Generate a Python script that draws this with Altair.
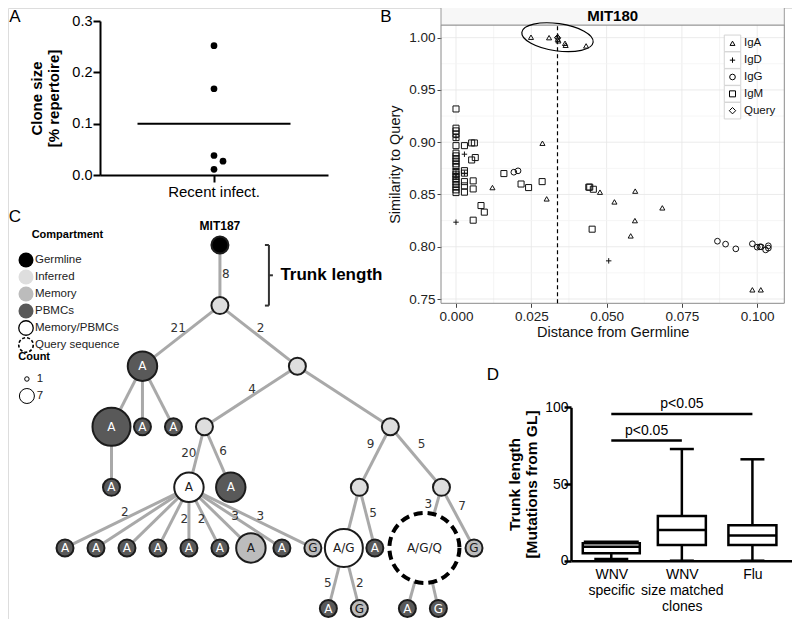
import json
import altair as alt
import pandas as pd

M = 8            # page margin
W, H = 784, 611  # chart canvas


def P(v):
    """page pixel -> chart pixel"""
    return v - M


SANS = "Liberation Sans"
TREE = "DejaVu Sans"

# ======================= DATA =======================
# ---- Panel A: clone size (% repertoire) ----
A_GROUP = "Recent infect."
A_VALUES = [0.252, 0.168, 0.038, 0.027, 0.011]
A_DODGE = [0, 0, 0, 1, 0]
A_CENTER = 0.10
A_TICKS = [0.0, 0.1, 0.2, 0.3]

# ---- Panel B: similarity vs distance ----
B_TITLE = "MIT180"
B_ISOTYPES = ["IgA", "IgD", "IgG", "IgM", "Query"]
IGA_X = [0.0249, 0.0309, 0.0338, 0.0338, 0.0340, 0.0362, 0.0364, 0.0432,
         0.0121, 0.0287, 0.0301, 0.0478, 0.0526, 0.0595, 0.0685, 0.0594, 0.0580, 0.0984, 0.1012]
IGA_Y = [1.0004, 1.0000, 1.0010, 0.9985, 0.9970, 0.9946, 0.9927, 0.9921,
         0.8566, 0.8990, 0.8458, 0.8522, 0.8429, 0.8532, 0.8372, 0.8250, 0.8104, 0.7588, 0.7588]
IGD_X = [0.0, 0.0, 0.0, 0.0, 0.0028, 0.0028, 0.0507]
IGD_Y = [0.9044, 0.8704, 0.8665, 0.8235, 0.8885, 0.8704, 0.7865]
IGG_X = [0.0192, 0.0206, 0.0868, 0.0895, 0.0929, 0.0984, 0.1000, 0.1009, 0.1013, 0.1028, 0.1037, 0.1037]
IGG_Y = [0.8713, 0.8726, 0.8053, 0.8025, 0.7980, 0.8028, 0.7996, 0.7999, 0.7999, 0.7970, 0.7987, 0.8009]
IGM_X = [0.0] * 21 + [0.0028] * 6 + [0.0052, 0.0061, 0.0052, 0.0064, 0.0057, 0.0057, 0.0057,
                                    0.0083, 0.0094, 0.0159, 0.0216, 0.0241, 0.0286, 0.0441, 0.0444, 0.0456, 0.0452]
IGM_Y = [0.9318, 0.9134, 0.9108, 0.9079, 0.9044, 0.8967, 0.8895, 0.8869, 0.8843, 0.8818, 0.8793,
         0.8767, 0.8719, 0.8694, 0.8671, 0.8646, 0.8620, 0.8595, 0.8570, 0.8544, 0.8518,
         0.8967, 0.8728, 0.8704, 0.8623, 0.8582, 0.8522,
         0.8993, 0.8993, 0.8830, 0.8853, 0.8630, 0.8553, 0.8254,
         0.8394, 0.8331, 0.8700, 0.8600, 0.8566, 0.8623, 0.8570, 0.8570, 0.8550, 0.8168]
QUERY_X = [0.0337]
QUERY_Y = [1.0000]
B_CUTOFF = 0.0337
B_XDOM = [-0.00498, 0.109]
B_YDOM = [0.7459, 1.0121]
B_XTICKS = [0.0, 0.025, 0.05, 0.075, 0.1]
B_YTICKS = [0.75, 0.80, 0.85, 0.90, 0.95, 1.00]

# ---- Panel C: lineage tree ----
COMPARTMENTS = ["Germline", "Inferred", "Memory", "PBMCs", "Memory/PBMCs", "Query sequence"]
NODE_PARENT = [None, 0, 1, 1, 2, 2, 2, 3, 3, 4, 7, 7, 8, 8,
               10, 10, 10, 10, 10, 10, 10, 10, 10, 12, 12, 13, 13, 23, 23, 25, 25]
NODE_X = [5.0, 5.0, 2.5, 7.5, 1.5, 2.5, 3.5, 4.5, 10.5, 1.5, 4.0, 5.35, 9.5, 12.15,
          0, 1, 2, 3, 4, 5, 6, 7, 8, 9.0, 10.0, 11.6, 13.2, 8.5, 9.5, 11.05, 12.05]
NODE_LEVEL = [0, 1, 2, 2, 3, 3, 3, 3, 3, 4, 4, 4, 4, 4,
              5, 5, 5, 5, 5, 5, 5, 5, 5, 5, 5, 5, 5, 6, 6, 6, 6]
NODE_COMP = ["Germline", "Inferred", "PBMCs", "Inferred", "PBMCs", "PBMCs", "PBMCs", "Inferred",
             "Inferred", "PBMCs", "Memory/PBMCs", "PBMCs", "Inferred", "Inferred",
             "PBMCs", "PBMCs", "PBMCs", "PBMCs", "PBMCs", "PBMCs", "Memory", "PBMCs", "Memory",
             "Memory/PBMCs", "PBMCs", "Query sequence", "Memory", "PBMCs", "Memory", "PBMCs", "PBMCs"]
NODE_COUNT = [1, 1, 4, 1, 7, 1, 1, 1, 1, 1, 4, 4, 1, 1,
              1, 1, 1, 1, 1, 1, 4, 1, 1, 7, 1, 25, 1, 1, 1, 1, 1]
NODE_LABEL = ["", "", "A", "", "A", "A", "A", "", "", "A", "A", "A", "", "",
              "A", "A", "A", "A", "A", "A", "A", "A", "G", "A/G", "A", "A/G/Q", "G", "A", "G", "A", "G"]
GERMLINE_NAME = "MIT187"
# edge mutation counts: (child node, mutations)
EDGE_MUT = [(1, "8"), (2, "21"), (3, "2"), (7, "4"), (10, "20"), (11, "6"), (12, "9"), (13, "5"),
            (24, "5"), (25, "3"), (26, "7"), (27, "5"), (28, "2"), (14, "2"), (17, "2"), (18, "2"),
            (21, "3"), (22, "3")]
# label placement along edge (fraction, px shift)
EDGE_LABEL_POS = {1: (0.48, 6), 2: (0.37, -13), 3: (0.37, 12), 7: (0.37, -11), 10: (0.43, -9),
                  11: (0.40, 8), 12: (0.28, -11), 13: (0.28, 17), 24: (0.43, 7), 25: (0.275, -8.5),
                  26: (0.31, 10.5), 27: (0.58, -7), 28: (0.58, 7), 14: (0.40, -14.5), 17: (0.52, 11.4),
                  18: (0.52, 12.7), 21: (0.48, 1.5), 22: (0.48, 12)}
COUNT_LEGEND = [1, 7]

# ---- Panel D: trunk length ----
D_GROUPS = ["WNV\nspecific", "WNV\nsize matched\nclones", "Flu"]
D_MIN = [1.1, 0, 0]
D_Q1 = [4.8, 10.2, 10.2]
D_MED = [9.1, 20.0, 16.5]
D_Q3 = [11.3, 29.1, 23.1]
D_MAX = [12.4, 72.8, 66.1]
D_SIG = [(1, 3, 95.6, "p<0.05"), (1, 2, 78.3, "p<0.05")]

PANEL_LETTERS = ["A", "B", "C", "D"]

# ======================= STYLE =======================
B_SHAPES = ["triangle-up", "M-1,0L1,0M0,-1L0,1", "circle", "square", "diamond"]
B_SIZES = [26, 40, 20, 16, 24]
FILLS = ["#000000", "#dedede", "#bcbcbc", "#595959", "#ffffff", "#ffffff"]
D_BOX_W = [57, 48, 48]
D_CAP_TOP = [55, 24, 24]
D_CAP_BOT = [34, 24, 24]

# ======================= PANEL A =======================
dfA = pd.DataFrame({"g": [A_GROUP] * len(A_VALUES), "v": A_VALUES, "d": A_DODGE})
dfAc = pd.DataFrame({"g": [A_GROUP], "v": [A_CENTER]})
a_range = [P(100), P(328)]
a_half_band = (a_range[1] - a_range[0]) / 2
sxA = alt.Scale(type="band", domain=[A_GROUP], range=a_range, paddingInner=0, paddingOuter=0)
syA = alt.Scale(domain=[0, 0.3], range=[P(175), P(21)], nice=False, zero=False)
axAx = alt.Axis(orient="bottom", offset=P(175) - H, title=None, labelFontSize=15, labelColor="black",
                labelPadding=2, domainColor="black", domainWidth=2, tickColor="black", tickWidth=2,
                tickSize=7, grid=False, labelAngle=0)
axAy = alt.Axis(orient="left", offset=-P(100), values=A_TICKS, format=".1f",
                title=["Clone size", "[% repertoire]"], titleFontSize=15, titleFontWeight="bold",
                titleColor="black", titlePadding=10, labelFontSize=14.5, labelColor="black",
                labelPadding=1, domainColor="black", domainWidth=2, tickColor="black", tickWidth=2,
                tickSize=7, grid=False)
xA = alt.X("g:N", scale=sxA, axis=axAx)
yA = alt.Y("v:Q", scale=syA, axis=axAy)
a_line = alt.Chart(dfAc).mark_tick(orient="horizontal", size=153, thickness=2, color="black",
                                   opacity=1).encode(x=xA, y=yA)
a_pts = alt.Chart(dfA).mark_point(shape="circle", filled=True, color="black", size=45, opacity=1).encode(
    x=xA, y=yA,
    xOffset=alt.XOffset("d:Q", scale=alt.Scale(domain=[0, 1], range=[a_half_band, a_half_band + 9])))
panelA = alt.layer(a_line, a_pts)

# ======================= PANEL B =======================
rowsB = []
for iso, xs, ys in [("IgA", IGA_X, IGA_Y), ("IgD", IGD_X, IGD_Y), ("IgG", IGG_X, IGG_Y),
                    ("IgM", IGM_X, IGM_Y), ("Query", QUERY_X, QUERY_Y)]:
    rowsB += [{"iso": iso, "x": a, "y": b} for a, b in zip(xs, ys)]
dfB = pd.DataFrame(rowsB)

b_range_x = [P(441), P(784.3)]
b_range_y = [P(303.3), P(25)]
sxB = alt.Scale(domain=B_XDOM, range=b_range_x, nice=False, zero=False)
syB = alt.Scale(domain=B_YDOM, range=b_range_y, nice=False, zero=False)
axBx = alt.Axis(orient="bottom", offset=P(303.3) - H, values=B_XTICKS, format=".3f",
                title="Distance from Germline", titleFontSize=14.5, titleFontWeight="normal",
                titleColor="#111", titlePadding=3, labelFontSize=13.5, labelColor="#222", labelPadding=2,
                domain=False, tickColor="#444", tickSize=4, tickWidth=1, grid=False)
axBy = alt.Axis(orient="left", offset=-P(441), values=B_YTICKS, format=".2f",
                title="Similarity to Query", titleFontSize=14.5, titleFontWeight="normal",
                titleColor="#111", titlePadding=6, labelFontSize=13.5, labelColor="#222", labelPadding=2,
                domain=False, tickColor="#444", tickSize=4, tickWidth=1, grid=False)


def bx(f):
    return alt.X(f, type="quantitative", scale=sxB, axis=axBx)


def by(f):
    return alt.Y(f, type="quantitative", scale=syB, axis=axBy)


minor_x = [(a + b) / 2 for a, b in zip(B_XTICKS[:-1], B_XTICKS[1:])]
minor_y = [(a + b) / 2 for a, b in zip(B_YTICKS[:-1], B_YTICKS[1:])] + [B_YTICKS[-1] + 0.025]
minor_y = [v for v in minor_y if B_YDOM[0] < v < B_YDOM[1]]
dfGx = pd.DataFrame({"x": minor_x + B_XTICKS, "k": ["minor"] * len(minor_x) + ["major"] * len(B_XTICKS),
                     "y": B_YDOM[0], "y2": B_YDOM[1]})
dfGy = pd.DataFrame({"y": minor_y + B_YTICKS, "k": ["minor"] * len(minor_y) + ["major"] * len(B_YTICKS),
                     "x": B_XDOM[0], "x2": B_XDOM[1]})
grid_col = alt.condition(alt.datum.k == "major", alt.value("#e6e6e6"), alt.value("#f3f3f3"))
b_gx = alt.Chart(dfGx).mark_rule(strokeWidth=0.8).encode(x=bx("x"), y=by("y"), y2="y2", color=grid_col)
b_gy = alt.Chart(dfGy).mark_rule(strokeWidth=0.8).encode(y=by("y"), x=bx("x"), x2="x2", color=grid_col)

strip_px = 18
strip_top = B_YDOM[1] + strip_px * (B_YDOM[1] - B_YDOM[0]) / (b_range_y[0] - b_range_y[1])
dfBorder = pd.DataFrame({"x": [B_XDOM[0]], "x2": [B_XDOM[1]], "y": [B_YDOM[0]], "y2": [B_YDOM[1]]})
dfStrip = pd.DataFrame({"x": [B_XDOM[0]], "x2": [B_XDOM[1]], "y": [B_YDOM[1]], "y2": [strip_top],
                        "xm": [(B_XDOM[0] + B_XDOM[1]) / 2], "ym": [(B_YDOM[1] + strip_top) / 2],
                        "t": [B_TITLE]})
b_border = alt.Chart(dfBorder).mark_rect(filled=False, color="#8a8a8a", strokeWidth=1).encode(
    x=bx("x"), x2="x2", y=by("y"), y2="y2")
b_strip = alt.Chart(dfStrip).mark_rect(fill="#f7f7f7", stroke="#9a9a9a", strokeWidth=1).encode(
    x=bx("x"), x2="x2", y=by("y"), y2="y2")
b_strip_t = alt.Chart(dfStrip).mark_text(fontSize=15, fontWeight="bold", color="black",
                                         baseline="middle").encode(x=bx("xm"), y=by("ym"), text="t:N")
dfCut = pd.DataFrame({"x": [B_CUTOFF], "y": [B_YDOM[0]], "y2": [B_YDOM[1]]})
b_cut = alt.Chart(dfCut).mark_rule(color="black", strokeWidth=1.2, strokeDash=[4, 3]).encode(
    x=bx("x"), y=by("y"), y2="y2")
shapeB = alt.Shape("iso:N", scale=alt.Scale(domain=B_ISOTYPES, range=B_SHAPES), legend=None)
sizeB = alt.Size("iso:N", scale=alt.Scale(domain=B_ISOTYPES, range=B_SIZES), legend=None)
b_pts = alt.Chart(dfB).mark_point(filled=False, color="#111", strokeWidth=1, opacity=1).encode(
    x=bx("x"), y=by("y"), shape=shapeB, size=sizeB)
ELLIPSE = "M-1,0A1 0.38 0 1 1 1,0A1 0.38 0 1 1 -1,0Z"
dfEl = pd.DataFrame({"x": [B_CUTOFF], "y": [1.0004]})
b_ell = alt.Chart(dfEl).mark_point(shape=ELLIPSE, size=72 ** 2, angle=8, filled=False, color="black",
                                   strokeWidth=1.2, opacity=1).encode(x=bx("x"), y=by("y"))
panelB = alt.layer(b_gx, b_gy, b_border, b_strip, b_strip_t, b_cut, b_pts, b_ell)

# legend of panel B
dfBL = pd.DataFrame({"iso": B_ISOTYPES, "row": list(range(len(B_ISOTYPES))), "c0": 0, "c1": 1})
sxBL = alt.Scale(domain=[0, 1], range=[P(732.5), P(744)])
syBL = alt.Scale(domain=[0, len(B_ISOTYPES) - 1], range=[P(43.3), P(110.7)])
bl_box = alt.Chart(dfBL).mark_square(size=16.5 ** 2, fill="white", stroke="#d4d4d4", strokeWidth=1,
                                     opacity=1).encode(
    x=alt.X("c0:Q", scale=sxBL, axis=None), y=alt.Y("row:Q", scale=syBL, axis=None))
bl_sym = alt.Chart(dfBL).mark_point(filled=False, color="black", strokeWidth=1, opacity=1).encode(
    x=alt.X("c0:Q", scale=sxBL, axis=None), y=alt.Y("row:Q", scale=syBL, axis=None),
    shape=alt.Shape("iso:N", scale=alt.Scale(domain=B_ISOTYPES, range=B_SHAPES), legend=None),
    size=alt.Size("iso:N", scale=alt.Scale(domain=B_ISOTYPES, range=[24, 40, 18, 16, 24]), legend=None))
bl_txt = alt.Chart(dfBL).mark_text(align="left", baseline="middle", fontSize=11.5, color="#111").encode(
    x=alt.X("c1:Q", scale=sxBL, axis=None), y=alt.Y("row:Q", scale=syBL, axis=None), text="iso:N")
legendB = alt.layer(bl_box, bl_sym, bl_txt)

# ======================= PANEL C (tree) =======================
T_XDOM = [0, 13.2]
T_YDOM = [0, 6]
t_rx = [P(65), P(474)]
t_ry = [P(245), P(608.5)]
UX = (T_XDOM[1] - T_XDOM[0]) / (t_rx[1] - t_rx[0])  # tree units per px
sxT = alt.Scale(domain=T_XDOM, range=t_rx, nice=False, zero=False)
syT = alt.Scale(domain=T_YDOM, range=t_ry, nice=False, zero=False)


def tx(f):
    return alt.X(f, type="quantitative", scale=sxT, axis=None)


def ty(f):
    return alt.Y(f, type="quantitative", scale=syT, axis=None)


dfN = pd.DataFrame({"id": list(range(len(NODE_X))), "x": NODE_X, "lvl": NODE_LEVEL, "comp": NODE_COMP,
                    "count": NODE_COUNT, "label": NODE_LABEL})
edges = []
for i, p in enumerate(NODE_PARENT):
    if p is not None:
        edges.append({"x": NODE_X[p], "y": NODE_LEVEL[p], "x2": NODE_X[i], "y2": NODE_LEVEL[i]})
dfE = pd.DataFrame(edges)
elab = []
for child, txt in EDGE_MUT:
    p = NODE_PARENT[child]
    t, dxp = EDGE_LABEL_POS[child]
    elab.append({"x": NODE_X[p] + t * (NODE_X[child] - NODE_X[p]) + dxp * UX,
                 "y": NODE_LEVEL[p] + t * (NODE_LEVEL[child] - NODE_LEVEL[p]), "t": txt})
dfEL = pd.DataFrame(elab)

fillT = alt.Fill("comp:N", scale=alt.Scale(domain=COMPARTMENTS, range=FILLS), legend=None)
sizeT = alt.Size("count:Q", scale=alt.Scale(domain=[1, 7], range=[289, 1444]), legend=None)
t_edges = alt.Chart(dfE).mark_rule(color="#a9a9a9", strokeWidth=3).encode(x=tx("x"), y=ty("y"), x2="x2", y2="y2")
t_nodes = alt.Chart(dfN[dfN.comp != "Query sequence"]).mark_point(
    shape="circle", filled=True, stroke="#1c1c1c", strokeWidth=2, opacity=1).encode(
    x=tx("x"), y=ty("lvl"), fill=fillT, size=sizeT)
t_query = alt.Chart(dfN[dfN.comp == "Query sequence"]).mark_point(
    shape="circle", filled=True, stroke="black", strokeWidth=4, strokeDash=[9, 5], opacity=1).encode(
    x=tx("x"), y=ty("lvl"), fill=fillT, size=sizeT)
t_labels = alt.Chart(dfN[dfN.label != ""]).mark_text(font=TREE, fontSize=12, baseline="middle").encode(
    x=tx("x"), y=ty("lvl"), text="label:N",
    color=alt.condition(alt.datum.comp == "PBMCs", alt.value("white"), alt.value("#1a1a1a")))
t_elabels = alt.Chart(dfEL).mark_text(font=TREE, fontSize=12, color="#333", baseline="middle").encode(
    x=tx("x"), y=ty("y"), text="t:N")
dfG = pd.DataFrame({"x": [NODE_X[0]], "y": [NODE_LEVEL[0]], "t": [GERMLINE_NAME]})
t_gname = alt.Chart(dfG).mark_text(fontSize=12, fontWeight="bold", color="black", dy=-19,
                                   baseline="middle").encode(
    x=tx("x"), y=ty("y"), text="t:N")
# trunk bracket (between germline and first inferred node)
bx0 = NODE_X[0] + 49 * UX
hook = 4 * UX
lv0, lv1 = NODE_LEVEL[0], NODE_LEVEL[1]
lvm = (lv0 + lv1) / 2
dfBr = pd.DataFrame({"x": [bx0, bx0 - hook, bx0 - hook, bx0],
                     "x2": [bx0, bx0, bx0, bx0 + hook],
                     "y": [lv0, lv0, lv1, lvm], "y2": [lv1, lv0, lv1, lvm]})
t_br = alt.Chart(dfBr).mark_rule(color="#333", strokeWidth=2).encode(x=tx("x"), x2="x2", y=ty("y"), y2="y2")
dfTl = pd.DataFrame({"x": [bx0 + 11.5 * UX], "y": [lvm], "t": ["Trunk length"]})
t_tl = alt.Chart(dfTl).mark_text(align="left", baseline="middle", fontSize=17, fontWeight="bold",
                                 color="black").encode(x=tx("x"), y=ty("y"), text="t:N")
panelC = alt.layer(t_edges, t_nodes, t_query, t_labels, t_elabels, t_gname, t_br, t_tl)

# legend of panel C
sxCL = alt.Scale(domain=[0, 1], range=[P(26), P(35)])
syCL = alt.Scale(domain=[0, 5], range=[P(260), P(345)])


def lx(f):
    return alt.X(f, type="quantitative", scale=sxCL, axis=None)


def ly(f):
    return alt.Y(f, type="quantitative", scale=syCL, axis=None)


dfCL = pd.DataFrame({"comp": COMPARTMENTS, "row": list(range(len(COMPARTMENTS))), "c0": 0, "c1": 1})
fillCL = alt.Fill("comp:N", scale=alt.Scale(domain=COMPARTMENTS, range=FILLS), legend=None)
cl_plain = alt.Chart(dfCL.iloc[:4]).mark_point(shape="circle", filled=True, size=225, opacity=1,
                                               strokeWidth=0).encode(x=lx("c0"), y=ly("row"), fill=fillCL)
cl_ring = alt.Chart(dfCL.iloc[4:5]).mark_point(shape="circle", filled=True, size=210, opacity=1,
                                               stroke="black", strokeWidth=1.3).encode(
    x=lx("c0"), y=ly("row"), fill=fillCL)
cl_dash = alt.Chart(dfCL.iloc[5:6]).mark_point(shape="circle", filled=True, size=210, opacity=1,
                                               stroke="black", strokeWidth=1.6, strokeDash=[3, 2]).encode(
    x=lx("c0"), y=ly("row"), fill=fillCL)
cl_txt = alt.Chart(dfCL).mark_text(align="left", baseline="middle", fontSize=11.5, color="#222").encode(
    x=lx("c1"), y=ly("row"), text="comp:N")
dfCT = pd.DataFrame({"x": [0.63, -0.86], "y": [-1.5, 5.7], "t": ["Compartment", "Count"]})
cl_tit = alt.Chart(dfCT).mark_text(align="left", baseline="middle", fontSize=11, fontWeight="bold",
                                   color="black").encode(x=lx("x"), y=ly("y"), text="t:N")
dfCC = pd.DataFrame({"count": COUNT_LEGEND, "row": [7 + i for i in range(len(COUNT_LEGEND))],
                     "c0": 0.1, "c1": 1.2, "t": [str(c) for c in COUNT_LEGEND]})
cl_cnt = alt.Chart(dfCC).mark_point(shape="circle", filled=False, color="black", strokeWidth=1,
                                    opacity=1).encode(
    x=lx("c0"), y=ly("row"),
    size=alt.Size("count:Q", scale=alt.Scale(domain=[1, 7], range=[20, 225]), legend=None))
cl_cnt_t = alt.Chart(dfCC).mark_text(align="left", baseline="middle", fontSize=11.5, color="#222").encode(
    x=lx("c1"), y=ly("row"), text="t:N")
legendC = alt.layer(cl_plain, cl_ring, cl_dash, cl_txt, cl_tit, cl_cnt, cl_cnt_t)

# ======================= PANEL D =======================
dfD = pd.DataFrame({"pos": list(range(1, len(D_GROUPS) + 1)), "mn": D_MIN, "q1": D_Q1, "med": D_MED,
                    "q3": D_Q3, "mx": D_MAX, "bw": D_BOX_W, "ct": D_CAP_TOP, "cb": D_CAP_BOT})
lab_arrays = json.dumps([g.split("\n") for g in D_GROUPS])
sxD = alt.Scale(domain=[0.5, len(D_GROUPS) + 0.5], range=[P(571), P(792.7)], nice=False, zero=False)
syD = alt.Scale(domain=[0, 100], range=[P(560.7), P(407.3)], nice=False, zero=False)
axDx = alt.Axis(orient="bottom", offset=P(560.7) - H, values=list(range(1, len(D_GROUPS) + 1)),
                labelExpr=f"{lab_arrays}[datum.value - 1]", title=None, labelFontSize=14,
                labelColor="black", labelPadding=7, labelLineHeight=16, labelBaseline="top",
                domainColor="black", domainWidth=2.5, ticks=False, grid=False, labelAngle=0)
axDy = alt.Axis(orient="left", offset=-P(571), values=[0, 50, 100], title=["Trunk length", "[Mutations from GL]"],
                titleFontSize=15.5, titleFontWeight="bold", titleColor="black", titlePadding=5,
                labelFontSize=14, labelColor="black", labelPadding=-4, domainColor="black", domainWidth=2.5,
                tickColor="black", tickWidth=2.5, tickSize=7, grid=False)


def dx_(f):
    return alt.X(f, type="quantitative", scale=sxD, axis=axDx)


def dy_(f):
    return alt.Y(f, type="quantitative", scale=syD, axis=axDy)


d_wlo = alt.Chart(dfD).mark_rule(color="black", strokeWidth=2.5).encode(x=dx_("pos"), y=dy_("mn"), y2="q1")
d_whi = alt.Chart(dfD).mark_rule(color="black", strokeWidth=2.5).encode(x=dx_("pos"), y=dy_("q3"), y2="mx")
d_box = alt.Chart(dfD).mark_bar(fill="white", stroke="black", strokeWidth=2.5, opacity=1).encode(
    x=dx_("pos"), y=dy_("q1"), y2="q3", size=alt.Size("bw:Q", scale=None))
d_med = alt.Chart(dfD).mark_tick(orient="horizontal", thickness=2.5, color="black", opacity=1).encode(
    x=dx_("pos"), y=dy_("med"), size=alt.Size("bw:Q", scale=None))
d_cap_t = alt.Chart(dfD).mark_tick(orient="horizontal", thickness=2.5, color="black", opacity=1).encode(
    x=dx_("pos"), y=dy_("mx"), size=alt.Size("ct:Q", scale=None))
d_cap_b = alt.Chart(dfD).mark_tick(orient="horizontal", thickness=2.5, color="black", opacity=1).encode(
    x=dx_("pos"), y=dy_("mn"), size=alt.Size("cb:Q", scale=None))
dfS = pd.DataFrame({"a": [s[0] for s in D_SIG], "b": [s[1] for s in D_SIG], "y": [s[2] for s in D_SIG],
                    "t": [s[3] for s in D_SIG]})
dfS["m"] = (dfS.a + dfS.b) / 2
d_sig = alt.Chart(dfS).mark_rule(color="black", strokeWidth=2.5).encode(x=dx_("a"), x2="b", y=dy_("y"))
d_sig_t = alt.Chart(dfS).mark_text(fontSize=14, color="black", baseline="bottom", dy=-3).encode(
    x=dx_("m"), y=dy_("y"), text="t:N")
panelD = alt.layer(d_wlo, d_whi, d_box, d_med, d_cap_t, d_cap_b, d_sig, d_sig_t)

# ======================= panel letters =======================
dfL = pd.DataFrame({"t": PANEL_LETTERS, "x": [15, 386, 15, 493], "y": [21.5, 21.5, 221.5, 379.5]})
sxPg = alt.Scale(domain=[0, 800], range=[P(0), P(800)])
syPg = alt.Scale(domain=[0, 627], range=[P(0), P(627)])
letters = alt.Chart(dfL).mark_text(fontSize=17, color="black", baseline="alphabetic").encode(
    x=alt.X("x:Q", scale=sxPg, axis=None), y=alt.Y("y:Q", scale=syPg, axis=None), text="t:N")

chart = alt.layer(panelA, panelB, legendB, panelC, legendC, panelD, letters).resolve_scale(
    x="independent", y="independent", size="independent", shape="independent", fill="independent",
    color="independent", xOffset="independent").resolve_axis(x="independent", y="independent").properties(
    width=W, height=H, autosize=alt.AutoSizeParams(type="none"), padding=0, background="white"
).configure_view(strokeWidth=0).configure(font=SANS)

chart.save("out.html", embed_options={"renderer": "svg", "actions": False})
